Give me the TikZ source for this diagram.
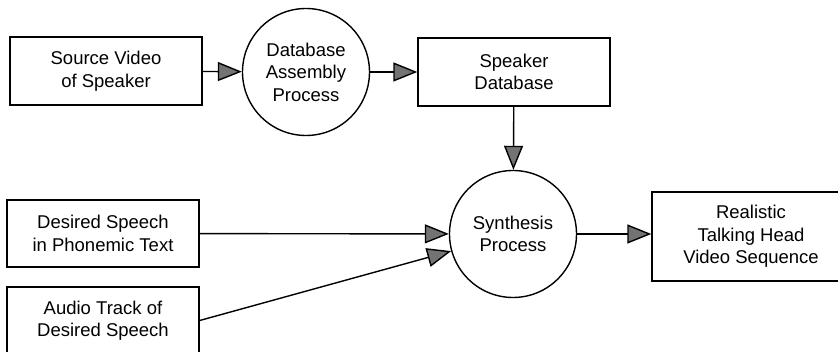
\documentclass[tikz,border=0pt]{standalone}
\usepackage{fontspec}
\setmainfont{Liberation Sans}
\usepackage{tikz}
\usetikzlibrary{arrows.meta,positioning}

\begin{document}
\begin{tikzpicture}[x=1pt, y=-1pt, line width=1.4pt,
    >={Triangle[length=24pt, width=19pt, fill=black!55]}]
  % Styles
  \tikzstyle{blk}=[draw, rectangle, minimum width=192pt, minimum height=68pt, inner sep=0pt, align=center, font=\fontsize{18.5}{22.5}\selectfont]
  \tikzstyle{proc}=[draw, circle, minimum size=127pt, inner sep=0pt, align=center, font=\fontsize{18.5}{22.5}\selectfont]

  \useasboundingbox (0,0) rectangle (838,352);
  \clip (0,0) rectangle (838,352);

  % Top row: building the database
  \node[blk] (src) at (106,71) {Source Video\\of Speaker};
  \node[proc] (dba) at (306,72) {Database\\Assembly\\Process};
  \node[blk] (spk) at (514,72) {Speaker\\Database};

  \draw[->] (src) -- (dba);
  \draw[->] (dba) -- (spk);

  % Bottom row: synthesis
  \node[proc] (syn) at (513,234) {Synthesis\\Process};
  \node[blk, minimum width=198pt, minimum height=89pt] (out) at (751,236.5) {Realistic\\Talking Head\\Video Sequence};
  \node[blk, minimum height=67pt] (txt) at (103,233.5) {Desired Speech\\in Phonemic Text};
  \node[blk, minimum height=67pt] (aud) at (103,320.5) {Audio Track of\\Desired Speech};

  \draw[->] (spk) -- (syn);
  \draw[->] (txt) -- (syn);
  \draw[->] (aud.east) -- (syn);
  \draw[->] (syn) -- (out.west |- syn);
\end{tikzpicture}
\end{document}
